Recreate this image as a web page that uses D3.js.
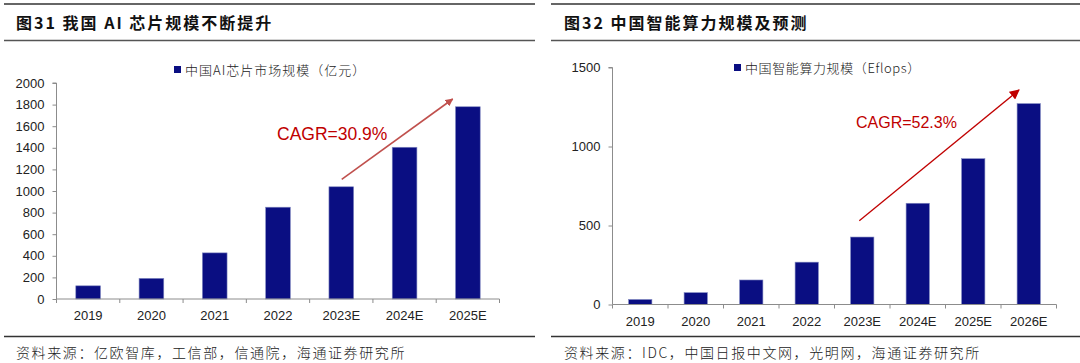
<!DOCTYPE html>
<html><head><meta charset="utf-8">
<script src="https://cdn.jsdelivr.net/npm/d3@7"></script>
<style>
html,body{margin:0;padding:0;background:#fff;}
svg{display:block;}
</style></head>
<body>
<svg id="c" width="1080" height="363"></svg>
<script>
// ---- data ----
const leftCategories = ["2019","2020","2021","2022","2023E","2024E","2025E"];
const leftValues = [122,191,427,850,1039,1405,1780];
const leftTicks = [0,200,400,600,800,1000,1200,1400,1600,1800,2000];
const leftTitle = "图31 我国 AI 芯片规模不断提升";
const leftLegend = "中国AI芯片市场规模（亿元）";
const leftCagr = "CAGR=30.9%";
const leftSource = "资料来源：亿欧智库，工信部，信通院，海通证券研究所";

const rightCategories = ["2019","2020","2021","2022","2023E","2024E","2025E","2026E"];
const rightValues = [31.7,75.0,155.2,268.0,427.0,640.7,922.8,1271.4];
const rightTicks = [0,500,1000,1500];
const rightTitle = "图32 中国智能算力规模及预测";
const rightLegend = "中国智能算力规模（Eflops）";
const rightCagr = "CAGR=52.3%";
const rightSource = "资料来源：IDC，中国日报中文网，光明网，海通证券研究所";

const svg = d3.select("#c");
const BAR = "#0A0E82";
const CJK = "'Noto Sans CJK SC', sans-serif";
const LAT = "'Liberation Sans', Arial, sans-serif";

svg.append("defs").html(
 `<marker id="ahL" viewBox="0 0 10 10" refX="9" refY="5" markerWidth="8" markerHeight="8" markerUnits="userSpaceOnUse" orient="auto"><path d="M0,0 L10,5 L0,10 z" fill="#C0504D"/></marker>
  <marker id="ahR" viewBox="0 0 10 10" refX="9" refY="5" markerWidth="10" markerHeight="10" markerUnits="userSpaceOnUse" orient="auto"><path d="M0,0 L10,5 L0,10 z" fill="#C00000"/></marker>`);

function panel(o){
  const g = svg.append("g");
  // frame lines
  g.append("line").attr("x1",o.x0).attr("x2",o.x1).attr("y1",4).attr("y2",4).attr("stroke","#333").attr("stroke-width",1.5);
  g.append("line").attr("x1",o.x0).attr("x2",o.x1).attr("y1",40.5).attr("y2",40.5).attr("stroke","#555").attr("stroke-width",1.5);
  g.append("line").attr("x1",o.x0).attr("x2",o.x1).attr("y1",336.5).attr("y2",336.5).attr("stroke","#333").attr("stroke-width",1.5);
  g.append("text").attr("x",o.titleX).attr("y",29).attr("font-family",CJK).attr("font-weight","bold")
    .attr("font-size",16).attr("letter-spacing",2).attr("fill","#111").text(o.title);
  g.append("text").attr("x",o.titleX).attr("y",358).attr("font-family",CJK).attr("font-weight",300)
    .attr("font-size",14).attr("letter-spacing",1.6).attr("fill","#222").text(o.source);

  const x = d3.scaleBand().domain(o.cats).range([o.ax0,o.ax1]).paddingInner(o.pad).paddingOuter(o.pad/2);
  const y = d3.scaleLinear().domain([0,o.ymax]).range([o.yb,o.yt]);

  // bars
  g.selectAll("rect.bar").data(o.vals).enter().append("rect")
    .attr("x",(d,i)=>x(o.cats[i])).attr("width",x.bandwidth())
    .attr("y",d=>y(d)).attr("height",d=>y(0)-y(d))
    .attr("fill",BAR).attr("stroke","#8088c0").attr("stroke-width",0.6);

  // y axis
  const ya = g.append("g").attr("transform",`translate(${o.ax0},0)`)
    .call(d3.axisLeft(y).tickValues(o.ticks).tickSize(4).tickPadding(8).tickFormat(d3.format("d")));
  ya.select(".domain").attr("stroke","#8c8c8c").attr("d",`M-4,${o.yt}H0V${o.yb}`);
  ya.selectAll(".tick line").attr("stroke","#8c8c8c");
  ya.selectAll("text").attr("font-family",LAT).attr("font-size",13).attr("fill","#222");

  // x axis
  const xa = g.append("g").attr("transform",`translate(0,${o.yb})`);
  xa.append("line").attr("x1",o.ax0).attr("x2",o.ax1).attr("stroke","#8c8c8c");
  const bw = (o.ax1-o.ax0)/o.cats.length;
  xa.selectAll("line.t").data(d3.range(o.cats.length+1)).enter().append("line")
    .attr("x1",i=>o.ax0+i*bw).attr("x2",i=>o.ax0+i*bw).attr("y1",0).attr("y2",4).attr("stroke","#8c8c8c");
  xa.selectAll("text.xl").data(o.cats).enter().append("text").attr("class","xl")
    .attr("x",d=>x(d)+x.bandwidth()/2).attr("y",o.xlabY-o.yb).attr("text-anchor","middle")
    .attr("font-family",LAT).attr("font-size",13).attr("fill","#222").text(d=>d);

  // legend
  g.append("rect").attr("x",o.legX).attr("y",o.legY-4).attr("width",7).attr("height",7).attr("fill",BAR);
  g.append("text").attr("x",o.legX+11).attr("y",o.legY+4.5).attr("font-family",CJK).attr("font-weight",300)
    .attr("font-size",13).attr("letter-spacing",o.legSp).attr("fill","#222").text(o.legend);

  // CAGR
  g.append("line").attr("x1",o.arrow[0]).attr("y1",o.arrow[1]).attr("x2",o.arrow[2]).attr("y2",o.arrow[3])
    .attr("stroke",o.arrowColor).attr("stroke-width",o.arrowW).attr("marker-end",`url(#${o.marker})`);
  g.append("text").attr("x",o.cagrX).attr("y",o.cagrY).attr("font-family",LAT).attr("font-size",o.cagrSize)
    .attr("fill","#C00000").text(o.cagr);
}

panel({x0:4,x1:535,titleX:16,title:leftTitle,source:leftSource,
  cats:leftCategories,vals:leftValues,ticks:leftTicks,ymax:2000,
  ax0:56.5,ax1:499.5,yb:299,yt:83,pad:0.61,xlabY:319.5,
  legX:174,legY:70,legend:leftLegend,legSp:1.0,
  arrow:[341.7,179.3,452.7,99],arrowColor:"#C0504D",arrowW:1.6,marker:"ahL",
  cagr:leftCagr,cagrX:277,cagrY:140,cagrSize:17.5});

panel({x0:551,x1:1080,titleX:564,title:rightTitle,source:rightSource,
  cats:rightCategories,vals:rightValues,ticks:rightTicks,ymax:1500,
  ax0:612.5,ax1:1056.5,yb:304.5,yt:67.5,pad:0.58,xlabY:326,
  legX:734,legY:68,legend:rightLegend,legSp:0.6,
  arrow:[859.3,220.7,1019,90],arrowColor:"#C00000",arrowW:1.3,marker:"ahR",
  cagr:rightCagr,cagrX:856,cagrY:127.5,cagrSize:16});
</script>
</body></html>
